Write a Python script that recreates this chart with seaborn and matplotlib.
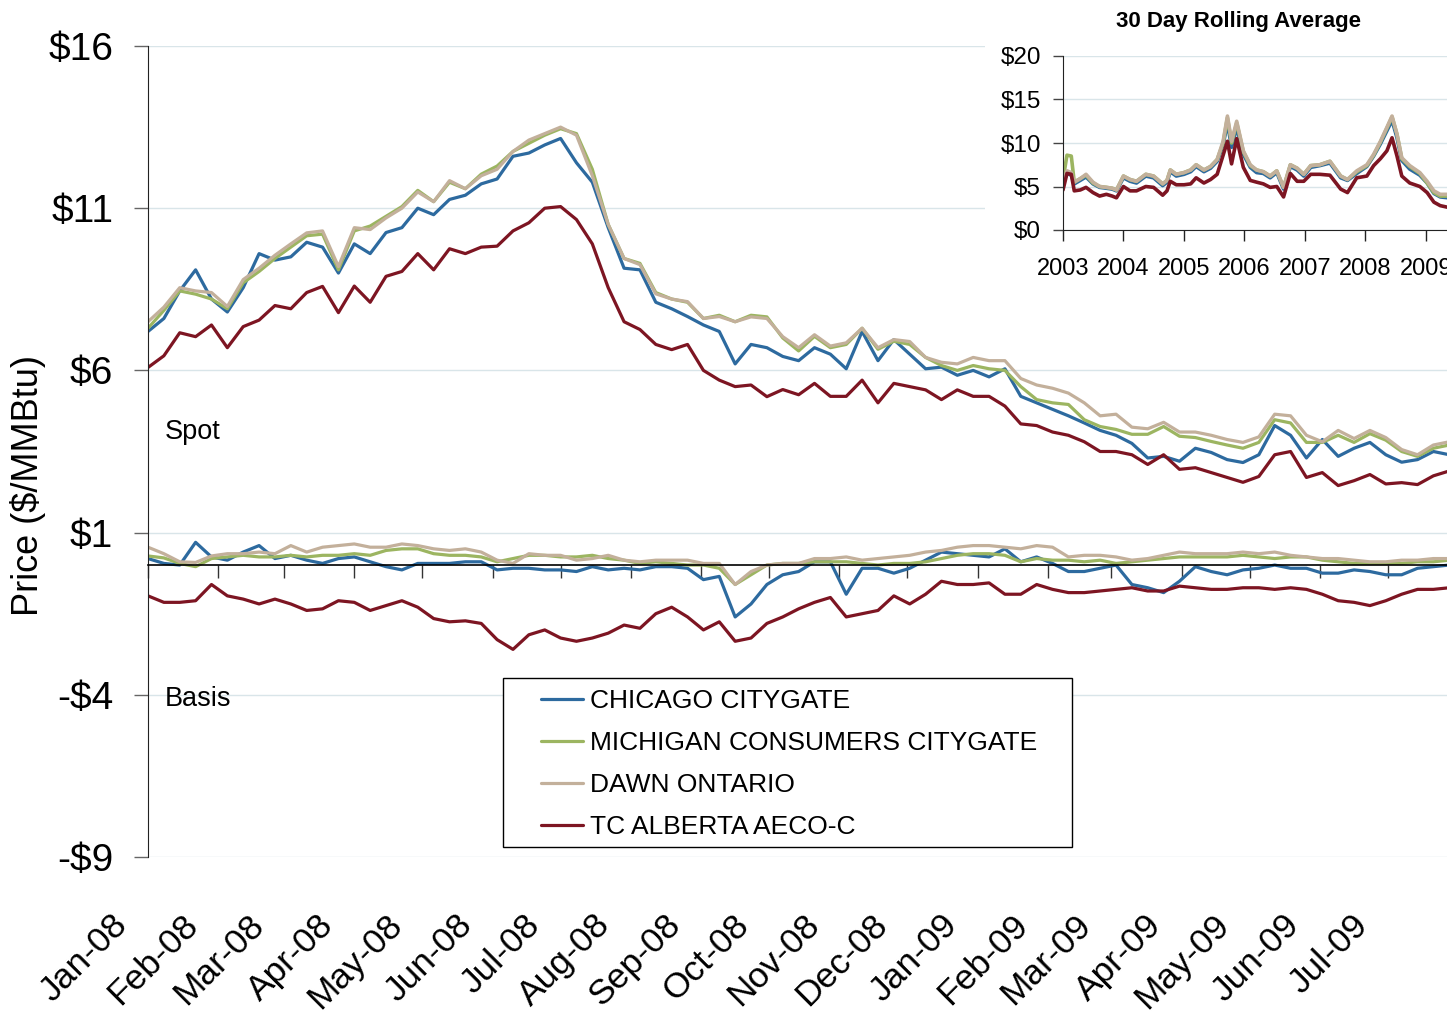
import pandas as pd
import numpy as np
import matplotlib
matplotlib.use('Agg')
import matplotlib.pyplot as plt
import matplotlib.dates as mdates
from matplotlib.patches import Rectangle
from matplotlib.lines import Line2D
from matplotlib.transforms import ScaledTranslation
import seaborn as sns

# ---- data ----
hubs = ['CHICAGO CITYGATE', 'MICHIGAN CONSUMERS CITYGATE', 'DAWN ONTARIO', 'TC ALBERTA AECO-C']
colors = ['#2D6A9F', '#9CB561', '#C3B09B', '#7D1522']

weeks = pd.date_range('2008-01-01', periods=83, freq='7D')

chicago_spot = [7.2, 7.6, 8.45, 9.1, 8.2, 7.8, 8.55, 9.6, 9.4, 9.5,
                9.95, 9.8, 9.0, 9.9, 9.6, 10.25, 10.4, 11.0, 10.8, 11.27,
                11.4, 11.75, 11.9, 12.6, 12.7, 12.95, 13.15, 12.4, 11.8, 10.4,
                9.15, 9.1, 8.1, 7.9, 7.66, 7.4, 7.2, 6.2, 6.8, 6.7,
                6.43, 6.3, 6.7, 6.5, 6.05, 7.2, 6.3, 6.95, 6.5, 6.05,
                6.1, 5.85, 6.0, 5.8, 6.05, 5.2, 5.0, 4.8, 4.6, 4.38,
                4.15, 4.0, 3.75, 3.3, 3.35, 3.2, 3.6, 3.47, 3.25, 3.16,
                3.4, 4.3, 4.0, 3.3, 3.87, 3.35, 3.6, 3.78, 3.4, 3.17,
                3.25, 3.5, 3.4]
michigan_spot = [7.3, 7.85, 8.45, 8.35, 8.2, 7.9, 8.7, 9.05, 9.45, 9.8,
                 10.15, 10.2, 9.1, 10.3, 10.45, 10.75, 11.05, 11.55, 11.2, 11.8,
                 11.6, 12.05, 12.3, 12.75, 13.0, 13.25, 13.45, 13.3, 12.2, 10.5,
                 9.45, 9.3, 8.4, 8.2, 8.1, 7.6, 7.7, 7.5, 7.7, 7.65,
                 7.0, 6.6, 7.05, 6.7, 6.8, 7.3, 6.65, 6.9, 6.8, 6.4,
                 6.15, 6.0, 6.15, 6.05, 6.0, 5.5, 5.1, 5.0, 4.95, 4.48,
                 4.27, 4.18, 4.03, 4.03, 4.27, 3.97, 3.93, 3.81, 3.7, 3.6,
                 3.78, 4.48, 4.38, 3.78, 3.78, 4.0, 3.78, 4.05, 3.85, 3.5,
                 3.35, 3.6, 3.7]
dawn_spot = [7.5, 7.95, 8.55, 8.45, 8.4, 7.97, 8.8, 9.15, 9.55, 9.9,
             10.24, 10.3, 9.2, 10.4, 10.34, 10.7, 11.0, 11.5, 11.2, 11.85,
             11.6, 12.0, 12.2, 12.75, 13.1, 13.3, 13.5, 13.25, 12.0, 10.5,
             9.45, 9.26, 8.36, 8.2, 8.12, 7.6, 7.66, 7.5, 7.65, 7.6,
             7.04, 6.7, 7.1, 6.75, 6.85, 7.3, 6.7, 6.95, 6.89, 6.4,
             6.25, 6.2, 6.4, 6.3, 6.3, 5.75, 5.55, 5.45, 5.3, 5.0,
             4.6, 4.65, 4.25, 4.2, 4.4, 4.1, 4.1, 4.0, 3.87, 3.78,
             3.95, 4.65, 4.6, 4.0, 3.8, 4.15, 3.9, 4.15, 3.93, 3.56,
             3.4, 3.7, 3.8]
aeco_spot = [6.09, 6.45, 7.16, 7.04, 7.4, 6.7, 7.35, 7.55, 8.0, 7.9,
             8.4, 8.59, 7.78, 8.6, 8.1, 8.9, 9.05, 9.6, 9.1, 9.75,
             9.6, 9.8, 9.83, 10.3, 10.55, 11.0, 11.05, 10.65, 9.9, 8.55,
             7.5, 7.26, 6.8, 6.64, 6.8, 6.0, 5.7, 5.5, 5.55, 5.19,
             5.41, 5.25, 5.6, 5.2, 5.2, 5.7, 5.0, 5.6, 5.5, 5.4,
             5.1, 5.4, 5.2, 5.2, 4.9, 4.35, 4.3, 4.1, 4.0, 3.8,
             3.5, 3.5, 3.4, 3.1, 3.4, 2.95, 3.0, 2.85, 2.7, 2.55,
             2.73, 3.4, 3.5, 2.7, 2.85, 2.45, 2.6, 2.79, 2.5, 2.54,
             2.48, 2.75, 2.9]

chicago_basis = [0.2, 0.05, 0.0, 0.7, 0.25, 0.15, 0.4, 0.6, 0.2, 0.3,
                 0.15, 0.05, 0.2, 0.25, 0.1, -0.05, -0.15, 0.05, 0.05, 0.05,
                 0.1, 0.1, -0.15, -0.1, -0.1, -0.15, -0.15, -0.2, -0.05, -0.15,
                 -0.1, -0.15, -0.05, -0.05, -0.1, -0.45, -0.35, -1.6, -1.2, -0.6,
                 -0.3, -0.2, 0.1, 0.1, -0.9, -0.1, -0.1, -0.25, -0.1, 0.15,
                 0.4, 0.35, 0.3, 0.25, 0.5, 0.1, 0.25, 0.05, -0.2, -0.2,
                 -0.1, 0.0, -0.6, -0.7, -0.85, -0.5, -0.05, -0.2, -0.3, -0.15,
                 -0.1, 0.0, -0.1, -0.1, -0.25, -0.25, -0.15, -0.2, -0.3, -0.3,
                 -0.1, -0.05, 0.0]
michigan_basis = [0.28, 0.22, 0.05, -0.05, 0.2, 0.25, 0.3, 0.25, 0.25, 0.3,
                  0.25, 0.3, 0.3, 0.35, 0.3, 0.45, 0.5, 0.5, 0.35, 0.3,
                  0.3, 0.25, 0.1, 0.2, 0.3, 0.3, 0.25, 0.25, 0.3, 0.2,
                  0.15, 0.05, 0.1, 0.05, 0.0, 0.0, -0.1, -0.6, -0.3, 0.0,
                  0.05, 0.05, 0.1, 0.1, 0.1, 0.05, 0.0, 0.05, 0.05, 0.1,
                  0.2, 0.3, 0.35, 0.35, 0.3, 0.1, 0.2, 0.15, 0.15, 0.1,
                  0.15, 0.05, 0.1, 0.15, 0.2, 0.25, 0.25, 0.25, 0.25, 0.3,
                  0.25, 0.2, 0.25, 0.25, 0.15, 0.1, 0.05, 0.05, 0.05, 0.05,
                  0.1, 0.1, 0.15]
dawn_basis = [0.55, 0.35, 0.1, 0.08, 0.28, 0.35, 0.35, 0.4, 0.35, 0.6,
              0.4, 0.55, 0.6, 0.65, 0.55, 0.55, 0.65, 0.6, 0.5, 0.45,
              0.5, 0.4, 0.15, 0.05, 0.35, 0.3, 0.3, 0.15, 0.2, 0.3,
              0.15, 0.1, 0.15, 0.15, 0.15, 0.05, 0.05, -0.6, -0.2, 0.0,
              0.05, 0.05, 0.2, 0.2, 0.25, 0.15, 0.2, 0.25, 0.3, 0.4,
              0.45, 0.55, 0.6, 0.6, 0.55, 0.5, 0.6, 0.55, 0.25, 0.3,
              0.3, 0.25, 0.15, 0.2, 0.3, 0.4, 0.35, 0.35, 0.35, 0.4,
              0.35, 0.4, 0.3, 0.25, 0.2, 0.2, 0.15, 0.1, 0.1, 0.15,
              0.15, 0.2, 0.2]
aeco_basis = [-0.95, -1.15, -1.15, -1.1, -0.6, -0.95, -1.05, -1.2, -1.05, -1.2,
              -1.4, -1.35, -1.1, -1.15, -1.4, -1.25, -1.1, -1.3, -1.65, -1.75,
              -1.72, -1.8, -2.3, -2.6, -2.15, -2.0, -2.25, -2.35, -2.25, -2.1,
              -1.85, -1.95, -1.5, -1.3, -1.6, -2.0, -1.75, -2.35, -2.25, -1.8,
              -1.6, -1.35, -1.15, -1.0, -1.6, -1.5, -1.4, -0.95, -1.2, -0.9,
              -0.5, -0.6, -0.6, -0.55, -0.9, -0.9, -0.6, -0.75, -0.85, -0.85,
              -0.8, -0.75, -0.7, -0.8, -0.8, -0.65, -0.7, -0.75, -0.75, -0.7,
              -0.7, -0.75, -0.7, -0.75, -0.9, -1.1, -1.15, -1.25, -1.1, -0.9,
              -0.75, -0.75, -0.7]

month_ticks = pd.date_range('2008-01-01', '2009-07-01', freq='MS')
month_labels = ['Jan-08', 'Feb-08', 'Mar-08', 'Apr-08', 'May-08', 'Jun-08', 'Jul-08',
                'Aug-08', 'Sep-08', 'Oct-08', 'Nov-08', 'Dec-08', 'Jan-09', 'Feb-09',
                'Mar-09', 'Apr-09', 'May-09', 'Jun-09', 'Jul-09']
y_ticks = [-9, -4, 1, 6, 11, 16]
y_labels = ['-$9', '-$4', '$1', '$6', '$11', '$16']

# inset: 30 day rolling average
inset_dates = pd.to_datetime([
    '2003-01-01', '2003-01-25', '2003-02-20', '2003-03-10', '2003-04-15', '2003-05-20',
    '2003-07-01', '2003-08-10', '2003-09-20', '2003-10-25', '2003-11-20', '2004-01-01',
    '2004-02-10', '2004-03-20', '2004-05-15', '2004-07-01', '2004-08-25', '2004-09-20',
    '2004-10-10', '2004-11-15', '2005-01-01', '2005-02-10', '2005-03-15', '2005-05-01',
    '2005-06-10', '2005-07-20', '2005-08-25', '2005-09-20', '2005-10-15', '2005-11-15',
    '2005-12-25', '2006-02-05', '2006-03-15', '2006-04-25', '2006-06-05', '2006-07-15',
    '2006-08-25', '2006-10-05', '2006-11-15', '2006-12-25', '2007-02-05', '2007-04-01',
    '2007-06-01', '2007-08-05', '2007-09-15', '2007-11-10', '2008-01-10', '2008-02-20',
    '2008-04-01', '2008-05-10', '2008-06-10', '2008-07-10', '2008-08-08', '2008-09-25',
    '2008-11-25', '2009-01-08', '2009-02-18', '2009-03-28', '2009-05-15'])
inset_chicago = [5.4, 6.5, 6.3, 5.3, 5.7, 6.1, 5.3, 4.9, 4.8, 4.7, 4.5, 6.0,
                 5.6, 5.4, 6.2, 6.0, 5.1, 5.5, 6.7, 6.2, 6.4, 6.7, 7.3, 6.7,
                 7.1, 7.9, 9.8, 12.3, 9.5, 11.8, 8.7, 7.2, 6.6, 6.5, 6.0, 6.6,
                 4.7, 7.3, 6.9, 6.2, 7.2, 7.4, 7.7, 6.0, 5.7, 6.5, 7.3, 8.5,
                 9.9, 11.4, 12.6, 10.6, 8.0, 7.0, 6.3, 5.4, 4.2, 3.8, 3.7]
inset_michigan = [5.8, 8.6, 8.5, 5.5, 5.9, 6.3, 5.4, 5.0, 4.9, 4.8, 4.6, 6.2,
                  5.8, 5.6, 6.4, 6.2, 5.3, 5.7, 6.9, 6.4, 6.6, 6.9, 7.5, 6.9,
                  7.3, 8.1, 10.0, 12.9, 10.0, 12.3, 9.0, 7.4, 6.9, 6.7, 6.2, 6.8,
                  4.9, 7.5, 7.1, 6.4, 7.4, 7.5, 7.9, 6.2, 5.8, 6.7, 7.4, 8.6,
                  10.1, 11.7, 13.0, 11.0, 8.2, 7.3, 6.5, 5.4, 4.3, 3.9, 3.9]
inset_dawn = [5.6, 6.8, 6.6, 5.5, 5.9, 6.4, 5.5, 5.0, 4.9, 4.8, 4.6, 6.2,
              5.8, 5.6, 6.4, 6.2, 5.3, 5.7, 6.9, 6.4, 6.6, 6.9, 7.5, 6.9,
              7.3, 8.1, 10.2, 13.1, 10.2, 12.5, 9.1, 7.5, 6.9, 6.7, 6.2, 6.8,
              4.9, 7.5, 7.1, 6.4, 7.4, 7.5, 7.9, 6.2, 5.8, 6.8, 7.5, 8.7,
              10.2, 11.8, 13.1, 11.0, 8.3, 7.4, 6.6, 5.6, 4.5, 4.1, 4.1]
inset_aeco = [4.6, 6.5, 6.4, 4.5, 4.6, 4.9, 4.3, 3.9, 4.1, 3.9, 3.7, 5.0,
              4.5, 4.5, 5.0, 4.9, 4.0, 4.5, 5.6, 5.2, 5.2, 5.3, 6.0, 5.4,
              5.8, 6.4, 8.6, 10.2, 7.6, 10.5, 7.2, 5.7, 5.5, 5.3, 4.9, 5.0,
              3.8, 6.5, 5.6, 5.6, 6.4, 6.4, 6.3, 4.7, 4.3, 6.0, 6.2, 7.4,
              8.2, 9.1, 10.6, 8.5, 6.2, 5.4, 5.0, 4.3, 3.2, 2.8, 2.6]
year_ticks = pd.to_datetime(['2003-01-01', '2004-01-01', '2005-01-01', '2006-01-01',
                             '2007-01-01', '2008-01-01', '2009-01-01'])
year_labels = ['2003', '2004', '2005', '2006', '2007', '2008', '2009']


def long_frame(dates, series):
    parts = [pd.DataFrame({'date': dates, 'hub': h, 'value': v}) for h, v in zip(hubs, series)]
    return pd.concat(parts, ignore_index=True)


spot = long_frame(weeks, [chicago_spot, michigan_spot, dawn_spot, aeco_spot])
basis = long_frame(weeks, [chicago_basis, michigan_basis, dawn_basis, aeco_basis])
inset = long_frame(inset_dates, [inset_chicago, inset_michigan, inset_dawn, inset_aeco])

sns.set_style('white')
plt.rcParams['font.family'] = ['Liberation Sans', 'DejaVu Sans']
plt.rcParams['text.color'] = 'black'
plt.rcParams['xtick.labelcolor'] = 'black'
plt.rcParams['ytick.labelcolor'] = 'black'

W, H = 1447, 1018
fig = plt.figure(figsize=(W / 100, H / 100), dpi=100)

# ---- main chart ----
ax = fig.add_axes([148 / W, 1 - 857 / H, (W - 148) / W, (857 - 46) / H])
for df in (spot, basis):
    sns.lineplot(data=df, x='date', y='value', hue='hub', hue_order=hubs, palette=colors,
                 estimator=None, lw=2.3, legend=False, ax=ax)
ax.set_xlim(pd.Timestamp('2008-01-01'), pd.Timestamp('2009-07-27'))
ax.set_ylim(-9, 16)
ax.set_xlabel('')
ax.set_ylabel('')

ax.set_yticks(y_ticks, labels=y_labels)
ax.tick_params(axis='y', direction='out', length=10, width=1, color='#666666',
               labelcolor='black', pad=15, labelsize=28, left=True)
ax.grid(axis='y', color='#D9E5E9', lw=1)
ax.grid(axis='x', visible=False)
ax.set_axisbelow(True)
for s in ('top', 'right'):
    ax.spines[s].set_visible(False)
ax.spines['left'].set_color('#222222')
ax.spines['bottom'].set_position(('data', 0))
ax.spines['bottom'].set_color('black')
ax.spines['bottom'].set_linewidth(1.2)

ax.set_xticks(month_ticks)
ax.tick_params(axis='x', direction='out', length=9.5, width=1, color='#333333',
               labelbottom=False, bottom=True)

sec = ax.secondary_xaxis('bottom')
sec.set_xticks(mdates.date2num(month_ticks), labels=month_labels)
sec.tick_params(length=0, pad=37, labelsize=25.5, labelcolor='black')
sec.spines['bottom'].set_visible(False)
shift = ScaledTranslation(-14 / 100, 0, fig.dpi_scale_trans)
for lbl in sec.get_xticklabels():
    lbl.set_rotation(45)
    lbl.set_ha('right')
    lbl.set_va('top')
    lbl.set_transform(lbl.get_transform() + shift)

fig.text(28 / W, 1 - 485 / H, 'Price ($/MMBtu)', rotation=90, fontsize=26,
         ha='center', va='center', color='black')
fig.text(165 / W, 1 - 432 / H, 'Spot', fontsize=19.5, va='center', color='black')
fig.text(165 / W, 1 - 699 / H, 'Basis', fontsize=19.5, va='center', color='black')

# legend box
ax.add_patch(Rectangle((503 / W, 1 - 847 / H), 569 / W, 169 / H, transform=fig.transFigure,
                       facecolor='white', edgecolor='black', lw=1, zorder=4, clip_on=False))
handles = [Line2D([0], [0], color=c, lw=2.3) for c in colors]
leg = ax.legend(handles, hubs, loc='upper left', bbox_to_anchor=(541 / W, 1 - 689 / H),
                bbox_transform=fig.transFigure, frameon=False, fontsize=19,
                handlelength=1.59, handletextpad=0.27, labelspacing=0.68,
                borderpad=0, borderaxespad=0)
for t in leg.get_texts():
    t.set_color('black')

# ---- inset ----
fig.patches.append(Rectangle((985 / W, 1 - 287 / H), (W - 985) / W, 287 / H,
                             transform=fig.transFigure, facecolor='white',
                             edgecolor='none', zorder=1))
axi = fig.add_axes([1063 / W, 1 - 230 / H, (W - 1063) / W, (230 - 56) / H])
axi.set_zorder(2)
sns.lineplot(data=inset, x='date', y='value', hue='hub', hue_order=hubs, palette=colors,
             estimator=None, lw=2.6, legend=False, ax=axi)
axi.set_xlim(pd.Timestamp('2003-01-01'), pd.Timestamp('2009-05-08'))
axi.set_ylim(0, 20)
axi.set_xlabel('')
axi.set_ylabel('')
axi.set_xticks(year_ticks, labels=year_labels)
axi.tick_params(axis='x', direction='out', length=8, width=1, color='#222222',
                labelcolor='black', pad=12, labelsize=17, bottom=True)
axi.set_yticks([0, 5, 10, 15, 20], labels=['$0', '$5', '$10', '$15', '$20'])
axi.tick_params(axis='y', direction='out', length=7, width=1, color='#444444',
                labelcolor='black', pad=9, labelsize=17.5, left=True)
axi.grid(axis='y', color='#D9E5E9', lw=1)
axi.grid(axis='x', visible=False)
axi.set_axisbelow(True)
for s in ('top', 'right'):
    axi.spines[s].set_visible(False)
axi.spines['left'].set_color('#222222')
axi.spines['bottom'].set_color('#222222')
fig.text(1238 / W, 1 - 22 / H, '30 Day Rolling Average', fontsize=16, fontweight='bold',
         ha='center', va='center', color='black')

fig.savefig('out.png', dpi=100)
